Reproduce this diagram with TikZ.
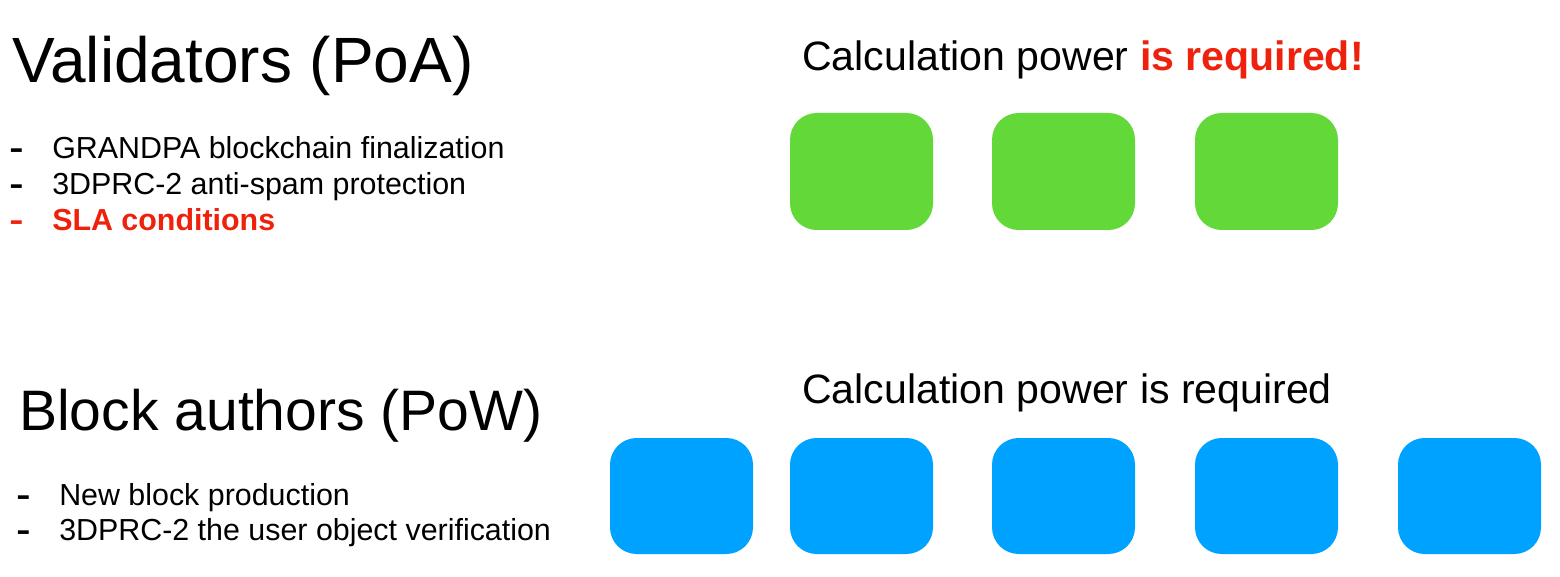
\documentclass[tikz,border=0pt]{standalone}
\usepackage{fontspec}
\setmainfont{Liberation Sans}
\definecolor{poagreen}{RGB}{98,217,57}
\definecolor{powblue}{RGB}{0,162,255}
\definecolor{slared}{RGB}{238,34,12}

\begin{document}
\begin{tikzpicture}[x=0.75pt,y=0.75pt,yscale=-1,xscale=1,
  greenbox/.style={fill=poagreen, draw=none, rounded corners=20pt, minimum width=107.25pt, minimum height=87.75pt, inner sep=0pt},
  bluebox/.style={fill=powblue, draw=none, rounded corners=20pt, minimum width=107.25pt, minimum height=87pt, inner sep=0pt},
  txt/.style={anchor=base west, inner sep=0pt},
  itemfont/.style={font=\fontsize{22.8}{27}\selectfont},
  calcfont/.style={font=\fontsize{30.8}{37}\selectfont}]
  \useasboundingbox (0,0) rectangle (1560,577);
  %Shape: Rounded Rect [id:poa1]
  \node [greenbox] (poa1) at (861.5,171.5) {};
  %Shape: Rounded Rect [id:poa2]
  \node [greenbox] (poa2) at (1063.5,171.5) {};
  %Shape: Rounded Rect [id:poa3]
  \node [greenbox] (poa3) at (1266.5,171.5) {};
  %Shape: Rounded Rect [id:pow1]
  \node [bluebox] (pow1) at (681.5,496) {};
  %Shape: Rounded Rect [id:pow2]
  \node [bluebox] (pow2) at (861.5,496) {};
  %Shape: Rounded Rect [id:pow3]
  \node [bluebox] (pow3) at (1063.5,496) {};
  %Shape: Rounded Rect [id:pow4]
  \node [bluebox] (pow4) at (1266.5,496) {};
  %Shape: Rounded Rect [id:pow5]
  \node [bluebox] (pow5) at (1469.5,496) {};

  % Text Node
  \node [txt, font=\fontsize{48}{58}\selectfont] (valtitle) at (12,83) {Validators (PoA)};
  % Text Node
  \node [txt, itemfont] (valdash1) at (9,159) {\scalebox{1.4}[1]{\bfseries -}};
  \node [txt, itemfont] (valitem1) at (52,159) {GRANDPA blockchain finalization};
  % Text Node
  \node [txt, itemfont] (valdash2) at (9,195) {\scalebox{1.4}[1]{\bfseries -}};
  \node [txt, itemfont] (valitem2) at (52,195) {3DPRC-2 anti-spam protection};
  % Text Node
  \node [txt, itemfont, text=slared] (valdash3) at (9,231) {\scalebox{1.4}[1]{\bfseries -}};
  \node [txt, itemfont, text=slared] (valitem3) at (52,231) {\bfseries SLA conditions};
  % Text Node
  \node [txt, calcfont] (poacalc) at (802,71) {Calculation power \textcolor{slared}{\bfseries is required!}};

  % Text Node
  \node [txt, font=\fontsize{42.8}{52}\selectfont] (powtitle) at (19,430) {Block authors (PoW)};
  % Text Node
  \node [txt, itemfont] (powdash1) at (16,505) {\scalebox{1.4}[1]{\bfseries -}};
  \node [txt, itemfont] (powitem1) at (59,505) {New block production};
  % Text Node
  \node [txt, itemfont] (powdash2) at (16,540) {\scalebox{1.4}[1]{\bfseries -}};
  \node [txt, itemfont] (powitem2) at (59,540) {3DPRC-2 the user object verification};
  % Text Node
  \node [txt, calcfont] (powcalc) at (802,403) {Calculation power is required};
\end{tikzpicture}
\end{document}
